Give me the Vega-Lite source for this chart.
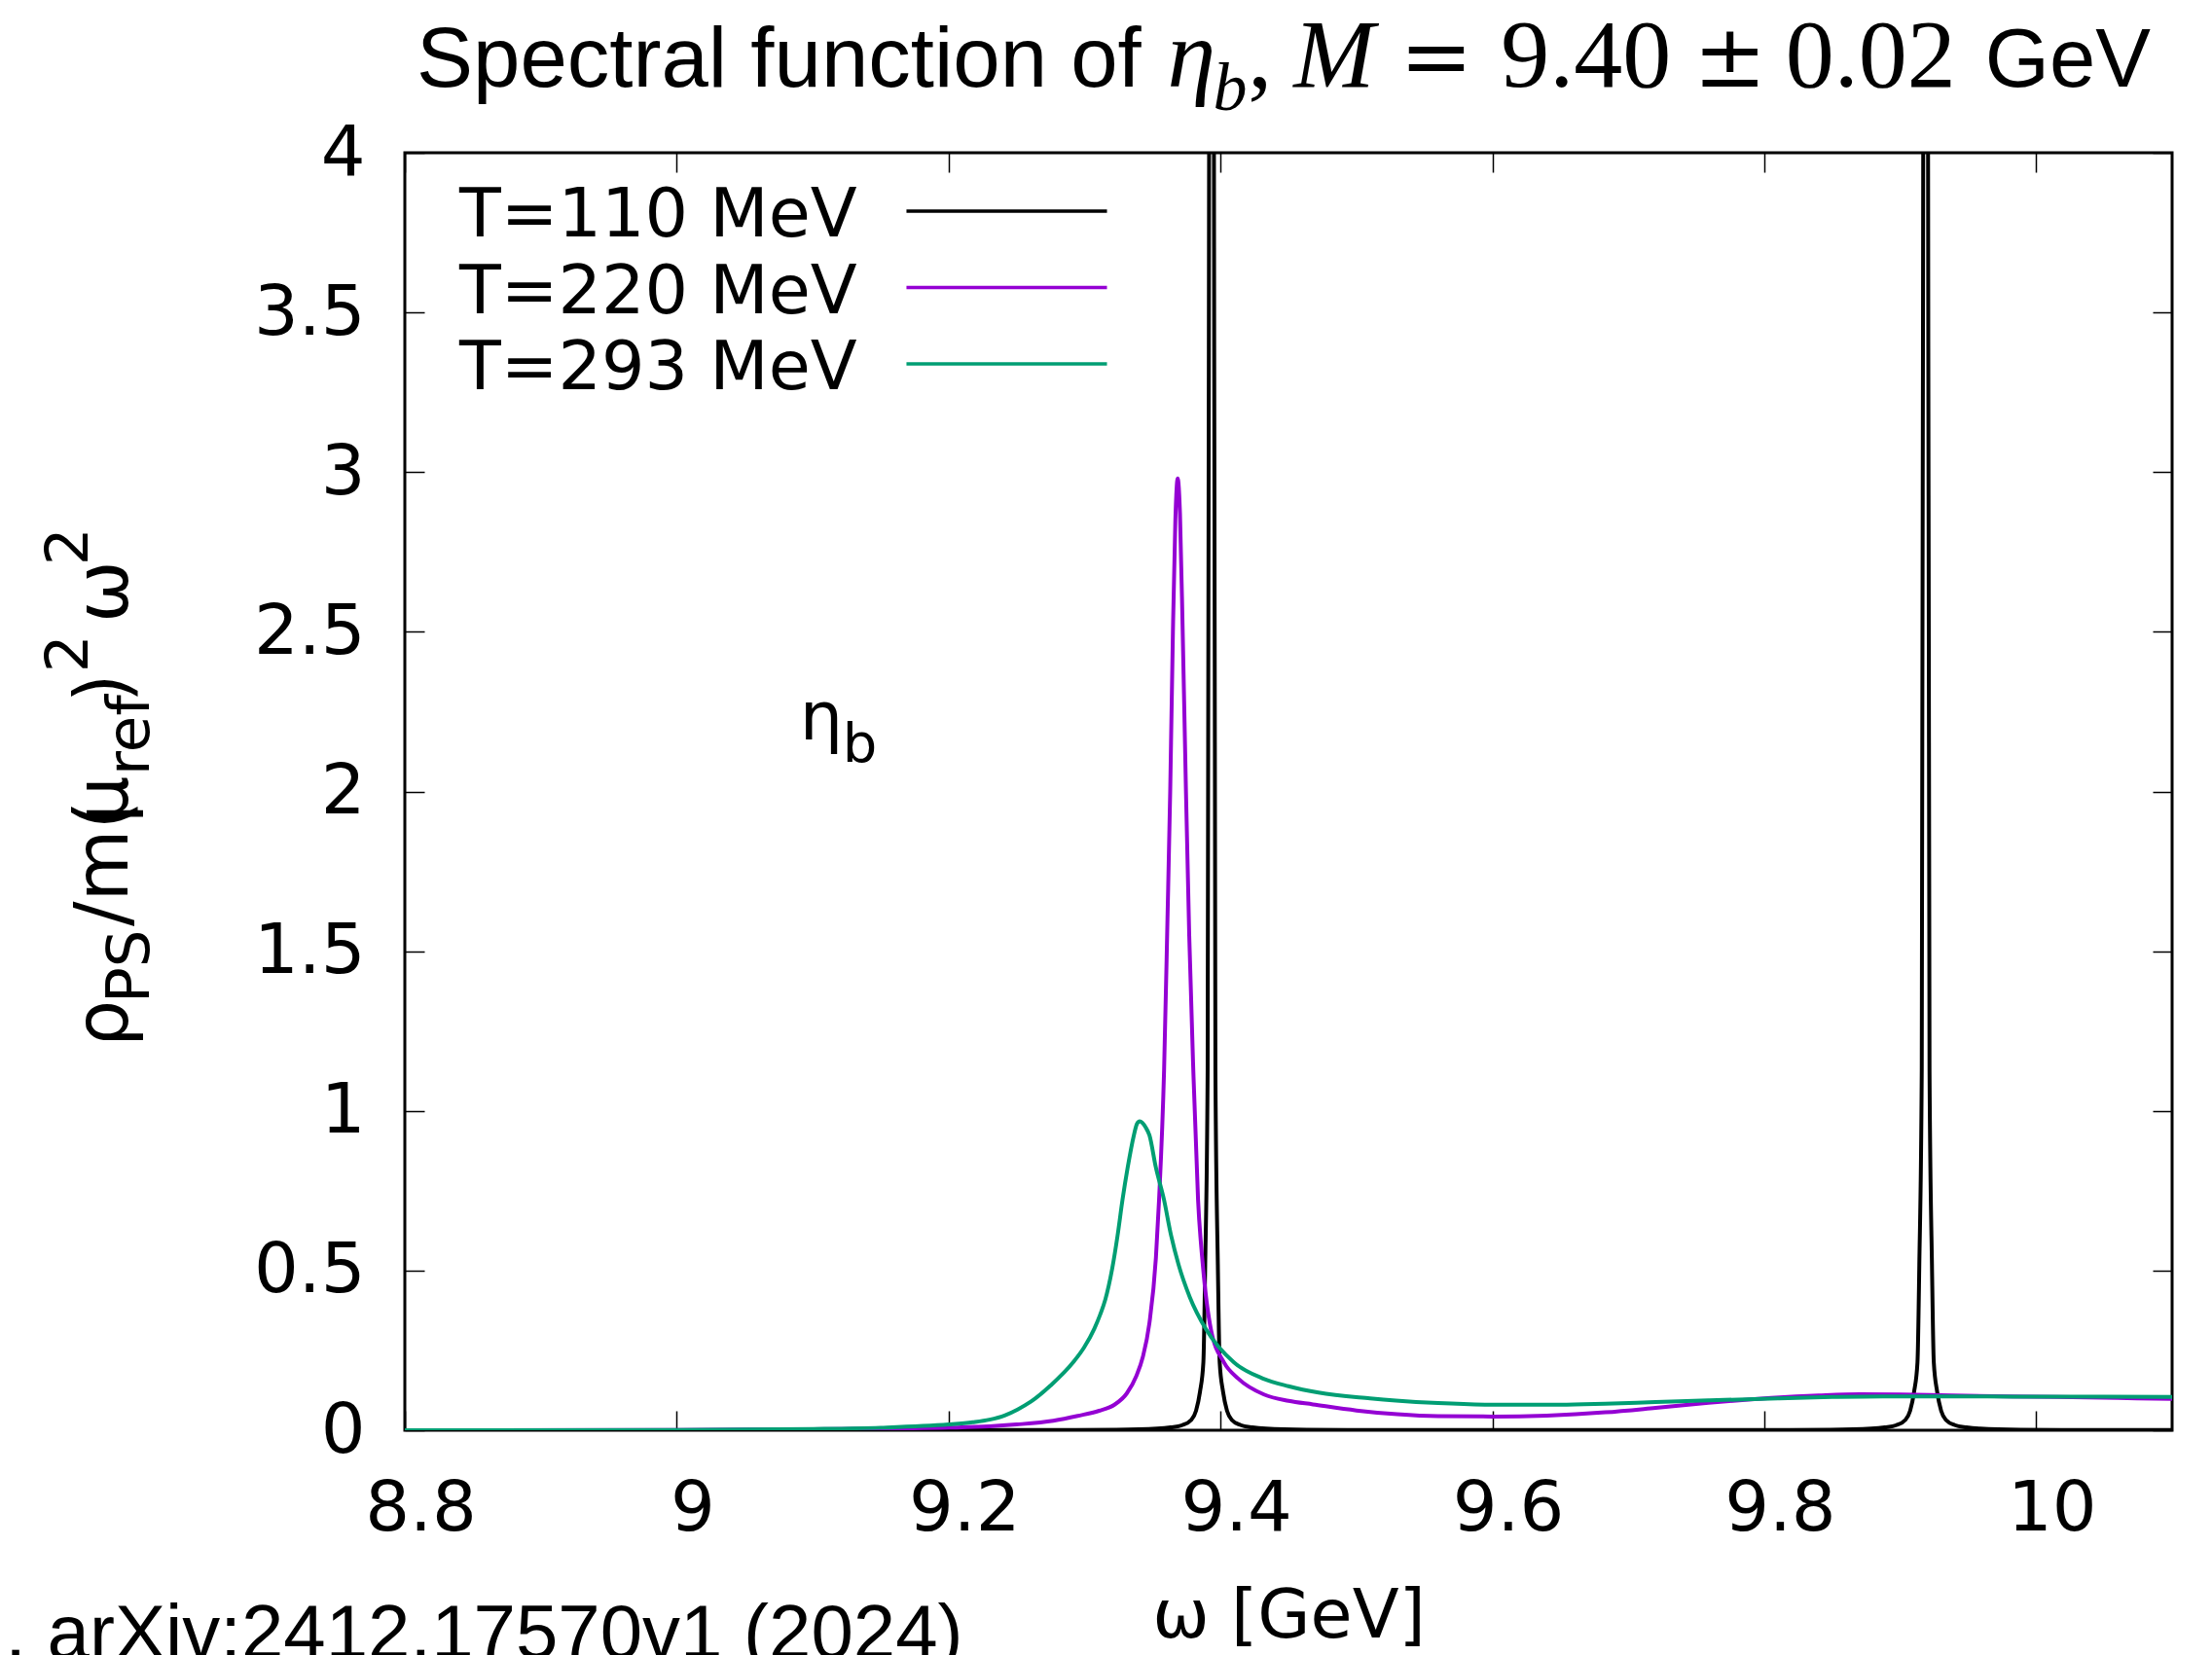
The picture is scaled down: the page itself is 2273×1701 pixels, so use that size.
{
  "$schema": "https://vega.github.io/schema/vega-lite/v6.json",
  "width": 1816,
  "height": 1313,
  "autosize": {"type": "none"},
  "padding": {"left": 416, "top": 157, "right": 41, "bottom": 231},
  "background": "white",
  "config": {
    "view": {"stroke": "black", "strokeWidth": 3},
    "axis": {
      "grid": false,
      "domain": false,
      "tickColor": "black",
      "tickWidth": 1.5,
      "tickSize": -20,
      "labelFont": "DejaVu Sans",
      "labelFontSize": 72,
      "labelColor": "black",
      "labelFlush": false,
      "labelOverlap": false,
      "titleFont": "DejaVu Sans",
      "titleFontSize": 70,
      "titleFontWeight": "normal",
      "titleColor": "black"
    },
    "text": {"color": "black"}
  },
  "datasets": {
    "legend": [
      {"T": "T=110 MeV"},
      {"T": "T=220 MeV"},
      {"T": "T=293 MeV"}
    ],
    "curves": [
      {"T": "T=110 MeV", "w": 8.8, "v": 0},
      {"T": "T=110 MeV", "w": 9.0, "v": 0.0002},
      {"T": "T=110 MeV", "w": 9.2, "v": 0.0006},
      {"T": "T=110 MeV", "w": 9.2934, "v": 0.001},
      {"T": "T=110 MeV", "w": 9.3234, "v": 0.0016},
      {"T": "T=110 MeV", "w": 9.3534, "v": 0.005},
      {"T": "T=110 MeV", "w": 9.3634, "v": 0.009},
      {"T": "T=110 MeV", "w": 9.3719, "v": 0.016},
      {"T": "T=110 MeV", "w": 9.3784, "v": 0.032},
      {"T": "T=110 MeV", "w": 9.382, "v": 0.061},
      {"T": "T=110 MeV", "w": 9.3849, "v": 0.12},
      {"T": "T=110 MeV", "w": 9.3874, "v": 0.213},
      {"T": "T=110 MeV", "w": 9.38875, "v": 0.518},
      {"T": "T=110 MeV", "w": 9.39054, "v": 1.127},
      {"T": "T=110 MeV", "w": 9.39161, "v": 4.0},
      {"T": "T=110 MeV", "w": 9.3934, "v": 12},
      {"T": "T=110 MeV", "w": 9.39519, "v": 4.0},
      {"T": "T=110 MeV", "w": 9.39626, "v": 1.127},
      {"T": "T=110 MeV", "w": 9.39805, "v": 0.518},
      {"T": "T=110 MeV", "w": 9.3994, "v": 0.213},
      {"T": "T=110 MeV", "w": 9.4019, "v": 0.12},
      {"T": "T=110 MeV", "w": 9.4048, "v": 0.061},
      {"T": "T=110 MeV", "w": 9.4084, "v": 0.032},
      {"T": "T=110 MeV", "w": 9.4149, "v": 0.016},
      {"T": "T=110 MeV", "w": 9.4234, "v": 0.009},
      {"T": "T=110 MeV", "w": 9.4334, "v": 0.005},
      {"T": "T=110 MeV", "w": 9.4634, "v": 0.0016},
      {"T": "T=110 MeV", "w": 9.4934, "v": 0.001},
      {"T": "T=110 MeV", "w": 9.6, "v": 0.0005},
      {"T": "T=110 MeV", "w": 9.7, "v": 0.0006},
      {"T": "T=110 MeV", "w": 9.8187, "v": 0.001},
      {"T": "T=110 MeV", "w": 9.8487, "v": 0.0016},
      {"T": "T=110 MeV", "w": 9.8787, "v": 0.005},
      {"T": "T=110 MeV", "w": 9.8887, "v": 0.009},
      {"T": "T=110 MeV", "w": 9.8972, "v": 0.016},
      {"T": "T=110 MeV", "w": 9.9037, "v": 0.032},
      {"T": "T=110 MeV", "w": 9.9073, "v": 0.061},
      {"T": "T=110 MeV", "w": 9.9102, "v": 0.12},
      {"T": "T=110 MeV", "w": 9.9127, "v": 0.213},
      {"T": "T=110 MeV", "w": 9.91405, "v": 0.518},
      {"T": "T=110 MeV", "w": 9.91584, "v": 1.127},
      {"T": "T=110 MeV", "w": 9.91691, "v": 4.0},
      {"T": "T=110 MeV", "w": 9.9187, "v": 12},
      {"T": "T=110 MeV", "w": 9.92049, "v": 4.0},
      {"T": "T=110 MeV", "w": 9.92156, "v": 1.127},
      {"T": "T=110 MeV", "w": 9.92335, "v": 0.518},
      {"T": "T=110 MeV", "w": 9.9247, "v": 0.213},
      {"T": "T=110 MeV", "w": 9.9272, "v": 0.12},
      {"T": "T=110 MeV", "w": 9.9301, "v": 0.061},
      {"T": "T=110 MeV", "w": 9.9337, "v": 0.032},
      {"T": "T=110 MeV", "w": 9.9402, "v": 0.016},
      {"T": "T=110 MeV", "w": 9.9487, "v": 0.009},
      {"T": "T=110 MeV", "w": 9.9587, "v": 0.005},
      {"T": "T=110 MeV", "w": 9.9887, "v": 0.0016},
      {"T": "T=110 MeV", "w": 10.0187, "v": 0.001},
      {"T": "T=110 MeV", "w": 10.1, "v": 0.0005},

      {"T": "T=220 MeV", "w": 8.8, "v": 0},
      {"T": "T=220 MeV", "w": 9.0, "v": 0.001},
      {"T": "T=220 MeV", "w": 9.1, "v": 0.003},
      {"T": "T=220 MeV", "w": 9.15, "v": 0.005},
      {"T": "T=220 MeV", "w": 9.2, "v": 0.008},
      {"T": "T=220 MeV", "w": 9.23, "v": 0.012},
      {"T": "T=220 MeV", "w": 9.25, "v": 0.018},
      {"T": "T=220 MeV", "w": 9.277, "v": 0.03},
      {"T": "T=220 MeV", "w": 9.295, "v": 0.045},
      {"T": "T=220 MeV", "w": 9.3107, "v": 0.061},
      {"T": "T=220 MeV", "w": 9.322, "v": 0.08},
      {"T": "T=220 MeV", "w": 9.331, "v": 0.115},
      {"T": "T=220 MeV", "w": 9.3381, "v": 0.17},
      {"T": "T=220 MeV", "w": 9.3429, "v": 0.23},
      {"T": "T=220 MeV", "w": 9.3477, "v": 0.335},
      {"T": "T=220 MeV", "w": 9.3525, "v": 0.54},
      {"T": "T=220 MeV", "w": 9.3548, "v": 0.721},
      {"T": "T=220 MeV", "w": 9.3585, "v": 1.127},
      {"T": "T=220 MeV", "w": 9.361, "v": 1.6},
      {"T": "T=220 MeV", "w": 9.363, "v": 2.0},
      {"T": "T=220 MeV", "w": 9.365, "v": 2.5},
      {"T": "T=220 MeV", "w": 9.3668, "v": 2.85},
      {"T": "T=220 MeV", "w": 9.3685, "v": 2.98},
      {"T": "T=220 MeV", "w": 9.3702, "v": 2.87},
      {"T": "T=220 MeV", "w": 9.3722, "v": 2.5},
      {"T": "T=220 MeV", "w": 9.3746, "v": 2.0},
      {"T": "T=220 MeV", "w": 9.377, "v": 1.55},
      {"T": "T=220 MeV", "w": 9.38, "v": 1.127},
      {"T": "T=220 MeV", "w": 9.3835, "v": 0.721},
      {"T": "T=220 MeV", "w": 9.387, "v": 0.518},
      {"T": "T=220 MeV", "w": 9.393, "v": 0.315},
      {"T": "T=220 MeV", "w": 9.4025, "v": 0.213},
      {"T": "T=220 MeV", "w": 9.413, "v": 0.162},
      {"T": "T=220 MeV", "w": 9.432, "v": 0.112},
      {"T": "T=220 MeV", "w": 9.45, "v": 0.092},
      {"T": "T=220 MeV", "w": 9.468, "v": 0.081},
      {"T": "T=220 MeV", "w": 9.5, "v": 0.062},
      {"T": "T=220 MeV", "w": 9.53, "v": 0.05},
      {"T": "T=220 MeV", "w": 9.56, "v": 0.044},
      {"T": "T=220 MeV", "w": 9.6, "v": 0.043},
      {"T": "T=220 MeV", "w": 9.64, "v": 0.046},
      {"T": "T=220 MeV", "w": 9.683, "v": 0.056},
      {"T": "T=220 MeV", "w": 9.72, "v": 0.07},
      {"T": "T=220 MeV", "w": 9.759, "v": 0.086},
      {"T": "T=220 MeV", "w": 9.805, "v": 0.101},
      {"T": "T=220 MeV", "w": 9.84, "v": 0.109},
      {"T": "T=220 MeV", "w": 9.87, "v": 0.113},
      {"T": "T=220 MeV", "w": 9.9, "v": 0.112},
      {"T": "T=220 MeV", "w": 9.938, "v": 0.109},
      {"T": "T=220 MeV", "w": 9.98, "v": 0.106},
      {"T": "T=220 MeV", "w": 10.015, "v": 0.104},
      {"T": "T=220 MeV", "w": 10.06, "v": 0.101},
      {"T": "T=220 MeV", "w": 10.1, "v": 0.098},

      {"T": "T=293 MeV", "w": 8.8, "v": 0},
      {"T": "T=293 MeV", "w": 9.0, "v": 0.001},
      {"T": "T=293 MeV", "w": 9.1, "v": 0.004},
      {"T": "T=293 MeV", "w": 9.15, "v": 0.008},
      {"T": "T=293 MeV", "w": 9.2, "v": 0.018},
      {"T": "T=293 MeV", "w": 9.2177, "v": 0.025},
      {"T": "T=293 MeV", "w": 9.23, "v": 0.033},
      {"T": "T=293 MeV", "w": 9.2416, "v": 0.047},
      {"T": "T=293 MeV", "w": 9.2507, "v": 0.065},
      {"T": "T=293 MeV", "w": 9.2607, "v": 0.09},
      {"T": "T=293 MeV", "w": 9.275, "v": 0.14},
      {"T": "T=293 MeV", "w": 9.2917, "v": 0.213},
      {"T": "T=293 MeV", "w": 9.2995, "v": 0.258},
      {"T": "T=293 MeV", "w": 9.3072, "v": 0.318},
      {"T": "T=293 MeV", "w": 9.3115, "v": 0.362},
      {"T": "T=293 MeV", "w": 9.3152, "v": 0.408},
      {"T": "T=293 MeV", "w": 9.3203, "v": 0.505},
      {"T": "T=293 MeV", "w": 9.3243, "v": 0.61},
      {"T": "T=293 MeV", "w": 9.3279, "v": 0.721},
      {"T": "T=293 MeV", "w": 9.3317, "v": 0.822},
      {"T": "T=293 MeV", "w": 9.3363, "v": 0.924},
      {"T": "T=293 MeV", "w": 9.3385, "v": 0.959},
      {"T": "T=293 MeV", "w": 9.3405, "v": 0.967},
      {"T": "T=293 MeV", "w": 9.3425, "v": 0.963},
      {"T": "T=293 MeV", "w": 9.345, "v": 0.948},
      {"T": "T=293 MeV", "w": 9.3477, "v": 0.924},
      {"T": "T=293 MeV", "w": 9.3525, "v": 0.822},
      {"T": "T=293 MeV", "w": 9.3585, "v": 0.721},
      {"T": "T=293 MeV", "w": 9.3632, "v": 0.619},
      {"T": "T=293 MeV", "w": 9.3692, "v": 0.518},
      {"T": "T=293 MeV", "w": 9.3775, "v": 0.416},
      {"T": "T=293 MeV", "w": 9.3895, "v": 0.315},
      {"T": "T=293 MeV", "w": 9.4097, "v": 0.213},
      {"T": "T=293 MeV", "w": 9.4312, "v": 0.162},
      {"T": "T=293 MeV", "w": 9.45, "v": 0.138},
      {"T": "T=293 MeV", "w": 9.4721, "v": 0.118},
      {"T": "T=293 MeV", "w": 9.51, "v": 0.1},
      {"T": "T=293 MeV", "w": 9.529, "v": 0.093},
      {"T": "T=293 MeV", "w": 9.56, "v": 0.085},
      {"T": "T=293 MeV", "w": 9.601, "v": 0.08},
      {"T": "T=293 MeV", "w": 9.65, "v": 0.08},
      {"T": "T=293 MeV", "w": 9.683, "v": 0.083},
      {"T": "T=293 MeV", "w": 9.72, "v": 0.088},
      {"T": "T=293 MeV", "w": 9.759, "v": 0.0935},
      {"T": "T=293 MeV", "w": 9.81, "v": 0.1},
      {"T": "T=293 MeV", "w": 9.85, "v": 0.104},
      {"T": "T=293 MeV", "w": 9.887, "v": 0.106},
      {"T": "T=293 MeV", "w": 9.94, "v": 0.106},
      {"T": "T=293 MeV", "w": 9.989, "v": 0.105},
      {"T": "T=293 MeV", "w": 10.05, "v": 0.105},
      {"T": "T=293 MeV", "w": 10.1, "v": 0.104}
    ]
  },
  "layer": [
    {
      "data": {"name": "curves"},
      "mark": {"type": "line", "clip": true, "strokeWidth": 4, "interpolate": "monotone"},
      "encoding": {
        "x": {
          "field": "w",
          "type": "quantitative",
          "scale": {"domain": [8.8, 10.1], "nice": false, "zero": false},
          "axis": {
            "orient": "bottom",
            "values": [8.8, 9, 9.2, 9.4, 9.6, 9.8, 10],
            "format": "~g",
            "labelPadding": 65,
            "labelOffset": 16,
            "title": "ω [GeV]",
            "titlePadding": 41
          }
        },
        "y": {
          "field": "v",
          "type": "quantitative",
          "scale": {"domain": [0, 4], "nice": false, "zero": false},
          "axis": {
            "orient": "left",
            "values": [0, 0.5, 1, 1.5, 2, 2.5, 3, 3.5, 4],
            "format": "~g",
            "labelPadding": 61,
            "title": null
          }
        },
        "color": {
          "field": "T",
          "type": "nominal",
          "scale": {
            "domain": ["T=110 MeV", "T=220 MeV", "T=293 MeV"],
            "range": ["#000000", "#9400d3", "#009e73"]
          },
          "legend": null
        }
      }
    },
    {
      "data": {"values": [{"label": "η"}]},
      "mark": {"type": "text", "font": "DejaVu Sans", "fontSize": 70, "align": "left", "baseline": "alphabetic"},
      "encoding": {
        "text": {"field": "label"},
        "x": {
          "datum": 9.0904,
          "type": "quantitative",
          "scale": {"domain": [8.8, 10.1], "nice": false, "zero": false},
          "axis": {"orient": "top", "values": [8.8, 9, 9.2, 9.4, 9.6, 9.8, 10], "labels": false, "title": null}
        },
        "y": {
          "datum": 2.16,
          "type": "quantitative",
          "scale": {"domain": [0, 4], "nice": false, "zero": false},
          "axis": {"orient": "right", "values": [0, 0.5, 1, 1.5, 2, 2.5, 3, 3.5, 4], "labels": false, "title": null}
        }
      }
    },
    {
      "data": {"values": [{"label": "b"}]},
      "mark": {"type": "text", "font": "DejaVu Sans", "fontSize": 56, "align": "left", "baseline": "alphabetic"},
      "encoding": {
        "text": {"field": "label"},
        "x": {"datum": 9.122, "type": "quantitative", "scale": {"domain": [8.8, 10.1], "nice": false, "zero": false}, "axis": null},
        "y": {"datum": 2.093, "type": "quantitative", "scale": {"domain": [0, 4], "nice": false, "zero": false}, "axis": null}
      }
    },
    {
      "data": {"values": [{"label": "ρ"}]},
      "mark": {"type": "text", "font": "DejaVu Sans", "fontSize": 76, "angle": 270, "align": "left", "baseline": "alphabetic", "clip": false},
      "encoding": {
        "text": {"field": "label"},
        "x": {"datum": 8.5961, "type": "quantitative", "scale": {"domain": [8.8, 10.1], "nice": false, "zero": false}, "axis": null},
        "y": {"datum": 1.2001, "type": "quantitative", "scale": {"domain": [0, 4], "nice": false, "zero": false}, "axis": null}
      }
    },
    {
      "data": {"values": [{"label": "PS"}]},
      "mark": {"type": "text", "font": "DejaVu Sans", "fontSize": 61, "angle": 270, "align": "left", "baseline": "alphabetic", "clip": false},
      "encoding": {
        "text": {"field": "label"},
        "x": {"datum": 8.6119, "type": "quantitative", "scale": {"domain": [8.8, 10.1], "nice": false, "zero": false}, "axis": null},
        "y": {"datum": 1.3372, "type": "quantitative", "scale": {"domain": [0, 4], "nice": false, "zero": false}, "axis": null}
      }
    },
    {
      "data": {"values": [{"label": "/m("}]},
      "mark": {"type": "text", "font": "DejaVu Sans", "fontSize": 76, "angle": 270, "align": "left", "baseline": "alphabetic", "clip": false},
      "encoding": {
        "text": {"field": "label"},
        "x": {"datum": 8.5961, "type": "quantitative", "scale": {"domain": [8.8, 10.1], "nice": false, "zero": false}, "axis": null},
        "y": {"datum": 1.5778, "type": "quantitative", "scale": {"domain": [0, 4], "nice": false, "zero": false}, "axis": null}
      }
    },
    {
      "data": {"values": [{"label": "μ"}]},
      "mark": {"type": "text", "font": "DejaVu Sans", "fontSize": 76, "angle": 270, "align": "left", "baseline": "alphabetic", "clip": false},
      "encoding": {
        "text": {"field": "label"},
        "x": {"datum": 8.5961, "type": "quantitative", "scale": {"domain": [8.8, 10.1], "nice": false, "zero": false}, "axis": null},
        "y": {"datum": 1.9007, "type": "quantitative", "scale": {"domain": [0, 4], "nice": false, "zero": false}, "axis": null}
      }
    },
    {
      "data": {"values": [{"label": "ref"}]},
      "mark": {"type": "text", "font": "DejaVu Sans", "fontSize": 61, "angle": 270, "align": "left", "baseline": "alphabetic", "clip": false},
      "encoding": {
        "text": {"field": "label"},
        "x": {"datum": 8.6119, "type": "quantitative", "scale": {"domain": [8.8, 10.1], "nice": false, "zero": false}, "axis": null},
        "y": {"datum": 2.05, "type": "quantitative", "scale": {"domain": [0, 4], "nice": false, "zero": false}, "axis": null}
      }
    },
    {
      "data": {"values": [{"label": ")"}]},
      "mark": {"type": "text", "font": "DejaVu Sans", "fontSize": 76, "angle": 270, "align": "left", "baseline": "alphabetic", "clip": false},
      "encoding": {
        "text": {"field": "label"},
        "x": {"datum": 8.5961, "type": "quantitative", "scale": {"domain": [8.8, 10.1], "nice": false, "zero": false}, "axis": null},
        "y": {"datum": 2.2784, "type": "quantitative", "scale": {"domain": [0, 4], "nice": false, "zero": false}, "axis": null}
      }
    },
    {
      "data": {"values": [{"label": "2"}]},
      "mark": {"type": "text", "font": "DejaVu Sans", "fontSize": 61, "angle": 270, "align": "left", "baseline": "alphabetic", "clip": false},
      "encoding": {
        "text": {"field": "label"},
        "x": {"datum": 8.5668, "type": "quantitative", "scale": {"domain": [8.8, 10.1], "nice": false, "zero": false}, "axis": null},
        "y": {"datum": 2.3728, "type": "quantitative", "scale": {"domain": [0, 4], "nice": false, "zero": false}, "axis": null}
      }
    },
    {
      "data": {"values": [{"label": "ω"}]},
      "mark": {"type": "text", "font": "DejaVu Sans", "fontSize": 76, "angle": 270, "align": "left", "baseline": "alphabetic", "clip": false},
      "encoding": {
        "text": {"field": "label"},
        "x": {"datum": 8.5961, "type": "quantitative", "scale": {"domain": [8.8, 10.1], "nice": false, "zero": false}, "axis": null},
        "y": {"datum": 2.5282, "type": "quantitative", "scale": {"domain": [0, 4], "nice": false, "zero": false}, "axis": null}
      }
    },
    {
      "data": {"values": [{"label": "2"}]},
      "mark": {"type": "text", "font": "DejaVu Sans", "fontSize": 61, "angle": 270, "align": "left", "baseline": "alphabetic", "clip": false},
      "encoding": {
        "text": {"field": "label"},
        "x": {"datum": 8.5668, "type": "quantitative", "scale": {"domain": [8.8, 10.1], "nice": false, "zero": false}, "axis": null},
        "y": {"datum": 2.7079, "type": "quantitative", "scale": {"domain": [0, 4], "nice": false, "zero": false}, "axis": null}
      }
    },
    {
      "data": {"values": [{"label": ". arXiv:2412.17570v1 (2024)"}]},
      "mark": {"type": "text", "font": "Liberation Sans", "fontSize": 78, "align": "right", "baseline": "alphabetic", "clip": false},
      "encoding": {
        "text": {"field": "label"},
        "x": {"datum": 9.2106, "type": "quantitative", "scale": {"domain": [8.8, 10.1], "nice": false, "zero": false}, "axis": null},
        "y": {"datum": -0.7128, "type": "quantitative", "scale": {"domain": [0, 4], "nice": false, "zero": false}, "axis": null}
      }
    },
    {
      "data": {"values": [{"label": "Spectral function of"}]},
      "mark": {"type": "text", "font": "Liberation Sans", "fontSize": 87, "align": "left", "baseline": "alphabetic", "clip": false},
      "encoding": {
        "text": {"field": "label"},
        "x": {"datum": 8.8086, "type": "quantitative", "scale": {"domain": [8.8, 10.1], "nice": false, "zero": false}, "axis": null},
        "y": {"datum": 4.2066, "type": "quantitative", "scale": {"domain": [0, 4], "nice": false, "zero": false}, "axis": null}
      }
    },
    {
      "data": {"values": [{"label": "η"}]},
      "mark": {"type": "text", "font": "Liberation Serif", "fontStyle": "italic", "fontSize": 100, "align": "left", "baseline": "alphabetic", "clip": false},
      "encoding": {
        "text": {"field": "label"},
        "x": {"datum": 9.3608, "type": "quantitative", "scale": {"domain": [8.8, 10.1], "nice": false, "zero": false}, "axis": null},
        "y": {"datum": 4.2066, "type": "quantitative", "scale": {"domain": [0, 4], "nice": false, "zero": false}, "axis": null}
      }
    },
    {
      "data": {"values": [{"label": "b"}]},
      "mark": {"type": "text", "font": "Liberation Serif", "fontStyle": "italic", "fontSize": 70, "align": "left", "baseline": "alphabetic", "clip": false},
      "encoding": {
        "text": {"field": "label"},
        "x": {"datum": 9.3945, "type": "quantitative", "scale": {"domain": [8.8, 10.1], "nice": false, "zero": false}, "axis": null},
        "y": {"datum": 4.1334, "type": "quantitative", "scale": {"domain": [0, 4], "nice": false, "zero": false}, "axis": null}
      }
    },
    {
      "data": {"values": [{"label": ","}]},
      "mark": {"type": "text", "font": "Liberation Serif", "fontSize": 100, "align": "left", "baseline": "alphabetic", "clip": false},
      "encoding": {
        "text": {"field": "label"},
        "x": {"datum": 9.4202, "type": "quantitative", "scale": {"domain": [8.8, 10.1], "nice": false, "zero": false}, "axis": null},
        "y": {"datum": 4.2066, "type": "quantitative", "scale": {"domain": [0, 4], "nice": false, "zero": false}, "axis": null}
      }
    },
    {
      "data": {"values": [{"label": "M"}]},
      "mark": {"type": "text", "font": "Liberation Serif", "fontStyle": "italic", "fontSize": 100, "align": "left", "baseline": "alphabetic", "clip": false},
      "encoding": {
        "text": {"field": "label"},
        "x": {"datum": 9.4538, "type": "quantitative", "scale": {"domain": [8.8, 10.1], "nice": false, "zero": false}, "axis": null},
        "y": {"datum": 4.2066, "type": "quantitative", "scale": {"domain": [0, 4], "nice": false, "zero": false}, "axis": null}
      }
    },
    {
      "data": {"values": [{"label": "="}]},
      "mark": {"type": "text", "font": "DejaVu Serif", "fontSize": 90, "align": "left", "baseline": "alphabetic", "clip": false},
      "encoding": {
        "text": {"field": "label"},
        "x": {"datum": 9.5318, "type": "quantitative", "scale": {"domain": [8.8, 10.1], "nice": false, "zero": false}, "axis": null},
        "y": {"datum": 4.2066, "type": "quantitative", "scale": {"domain": [0, 4], "nice": false, "zero": false}, "axis": null}
      }
    },
    {
      "data": {"values": [{"label": "9.40"}]},
      "mark": {"type": "text", "font": "Liberation Serif", "fontSize": 100, "align": "left", "baseline": "alphabetic", "clip": false},
      "encoding": {
        "text": {"field": "label"},
        "x": {"datum": 9.6062, "type": "quantitative", "scale": {"domain": [8.8, 10.1], "nice": false, "zero": false}, "axis": null},
        "y": {"datum": 4.2066, "type": "quantitative", "scale": {"domain": [0, 4], "nice": false, "zero": false}, "axis": null}
      }
    },
    {
      "data": {"values": [{"label": "±"}]},
      "mark": {"type": "text", "font": "DejaVu Serif", "fontSize": 90, "align": "left", "baseline": "alphabetic", "clip": false},
      "encoding": {
        "text": {"field": "label"},
        "x": {"datum": 9.7478, "type": "quantitative", "scale": {"domain": [8.8, 10.1], "nice": false, "zero": false}, "axis": null},
        "y": {"datum": 4.2066, "type": "quantitative", "scale": {"domain": [0, 4], "nice": false, "zero": false}, "axis": null}
      }
    },
    {
      "data": {"values": [{"label": "0.02"}]},
      "mark": {"type": "text", "font": "Liberation Serif", "fontSize": 100, "align": "left", "baseline": "alphabetic", "clip": false},
      "encoding": {
        "text": {"field": "label"},
        "x": {"datum": 9.8157, "type": "quantitative", "scale": {"domain": [8.8, 10.1], "nice": false, "zero": false}, "axis": null},
        "y": {"datum": 4.2066, "type": "quantitative", "scale": {"domain": [0, 4], "nice": false, "zero": false}, "axis": null}
      }
    },
    {
      "data": {"values": [{"label": "GeV"}]},
      "mark": {"type": "text", "font": "Liberation Sans", "fontSize": 85, "align": "left", "baseline": "alphabetic", "clip": false},
      "encoding": {
        "text": {"field": "label"},
        "x": {"datum": 9.9624, "type": "quantitative", "scale": {"domain": [8.8, 10.1], "nice": false, "zero": false}, "axis": null},
        "y": {"datum": 4.2066, "type": "quantitative", "scale": {"domain": [0, 4], "nice": false, "zero": false}, "axis": null}
      }
    },
    {
      "data": {"name": "legend"},
      "mark": {"type": "text", "font": "DejaVu Sans", "fontSize": 70, "align": "right", "baseline": "middle", "dy": 5},
      "encoding": {
        "text": {"field": "T"},
        "x": {"datum": 9.1326, "type": "quantitative", "scale": {"domain": [8.8, 10.1], "nice": false, "zero": false}, "axis": null},
        "y": {"field": "T", "type": "nominal", "scale": {"type": "point", "domain": ["T=110 MeV", "T=220 MeV", "T=293 MeV"], "range": [60, 217], "padding": 0}, "axis": null}
      }
    },
    {
      "data": {"name": "legend"},
      "mark": {"type": "rule", "strokeWidth": 3.5},
      "encoding": {
        "x": {"datum": 9.169, "type": "quantitative", "scale": {"domain": [8.8, 10.1], "nice": false, "zero": false}, "axis": null},
        "x2": {"datum": 9.3165},
        "y": {"field": "T", "type": "nominal", "scale": {"type": "point", "domain": ["T=110 MeV", "T=220 MeV", "T=293 MeV"], "range": [60, 217], "padding": 0}, "axis": null},
        "color": {"field": "T", "type": "nominal", "legend": null}
      }
    }
  ],
  "resolve": {"axis": {"x": "independent", "y": "independent"}, "scale": {"y": "independent"}}
}
